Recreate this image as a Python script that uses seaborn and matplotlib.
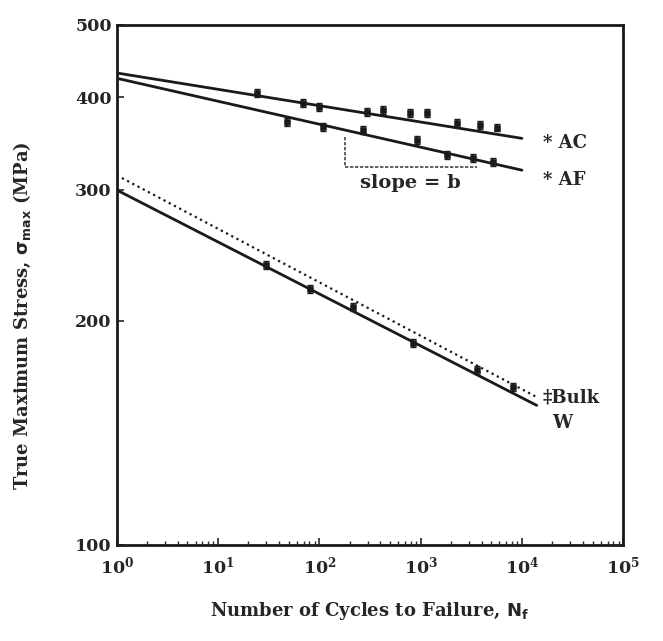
import numpy as np
import pandas as pd
import matplotlib
matplotlib.use('Agg')
import matplotlib.pyplot as plt
import seaborn as sns
from matplotlib.ticker import FixedLocator, FixedFormatter, NullFormatter

# fitted lines (end points of each Basquin fit)
line_names = ['AC', 'AF', 'Bulk', 'W']
line_n = [[1, 1.0e4], [1, 1.0e4], [1, 1.4e4], [1, 1.4e4]]
line_stress = [[431, 352], [424, 319], [314, 158], [300, 154]]
line_styles = ['-', '-', ':', '-']

# measured points
ac_n = [24, 69, 100, 295, 425, 790, 1150, 2300, 3880, 5660]
ac_s = [405, 393, 388, 382, 384, 381, 381, 369, 367, 364]
af_n = [48, 109, 270, 920, 1820, 3300, 5200]
af_s = [370, 365, 361, 350, 334, 331, 327]
w_n = [30, 81, 215, 840, 3600, 8200]
w_s = [238, 221, 209, 187, 172, 163]

sns.set_style("ticks")
plt.rcParams['font.family'] = ['DejaVu Serif']
plt.rcParams['font.weight'] = 'bold'

fig = plt.figure(figsize=(6.63, 6.41), dpi=100)
ax = fig.add_axes([0.176, 0.150, 0.764, 0.811])

for name, n, s, ls in zip(line_names, line_n, line_stress, line_styles):
    df = pd.DataFrame({'N': n, 'S': s})
    sns.lineplot(data=df, x='N', y='S', ax=ax, color='#1a1a1a',
                 linewidth=2.0 if ls == '-' else 1.6, linestyle=ls)

for n, s in [(ac_n, ac_s), (af_n, af_s), (w_n, w_s)]:
    s = np.array(s)
    ax.errorbar(n, s, yerr=s * 0.012, fmt='none', ecolor='#1a1a1a',
                elinewidth=1.3, capsize=2.5)
    sns.scatterplot(x=n, y=s, ax=ax, marker='s', s=22, color='#1a1a1a',
                    edgecolor='#1a1a1a')

ax.set_xscale('log')
ax.set_yscale('log')
ax.set_xlim(1, 1e5)
ax.set_ylim(100, 500)

# slope indicator
ax.plot([178, 178, 3600], [353, 322, 322], color='#444444',
        linewidth=1.2, linestyle=(0, (2, 1)))
ax.text(790, 307, 'slope = b', ha='center', va='center', fontsize=14,
        fontweight='bold')

ax.text(1.6e4, 347, '* AC', ha='left', va='center', fontsize=13, fontweight='bold')
ax.text(1.6e4, 309, '* AF', ha='left', va='center', fontsize=13, fontweight='bold')
ax.text(1.6e4, 158, '‡Bulk', ha='left', va='center', fontsize=13, fontweight='bold')
ax.text(2.0e4, 146, 'W', ha='left', va='center', fontsize=13, fontweight='bold')

yt = [100, 200, 300, 400, 500]
ax.yaxis.set_major_locator(FixedLocator(yt))
ax.yaxis.set_major_formatter(FixedFormatter([str(v) for v in yt]))
ax.yaxis.set_minor_formatter(NullFormatter())
ax.tick_params(axis='both', which='both', direction='in', labelsize=12.5)
ax.tick_params(axis='both', which='major', length=5, width=1.2)
ax.tick_params(axis='both', which='minor', length=3, width=1)
ax.tick_params(axis='x', pad=8)
for sp in ax.spines.values():
    sp.set_linewidth(2)
    sp.set_color('#1a1a1a')

ax.set_xlabel('Number of Cycles to Failure, $\\mathbf{N_f}$', fontsize=13,
              fontweight='bold', labelpad=16)
ax.set_ylabel('True Maximum Stress, $\\mathbf{\\sigma_{max}}$ (MPa)', fontsize=13,
              fontweight='bold')
ax.yaxis.set_label_coords(-0.165, 0.44)

plt.savefig('out.png', dpi=100)
